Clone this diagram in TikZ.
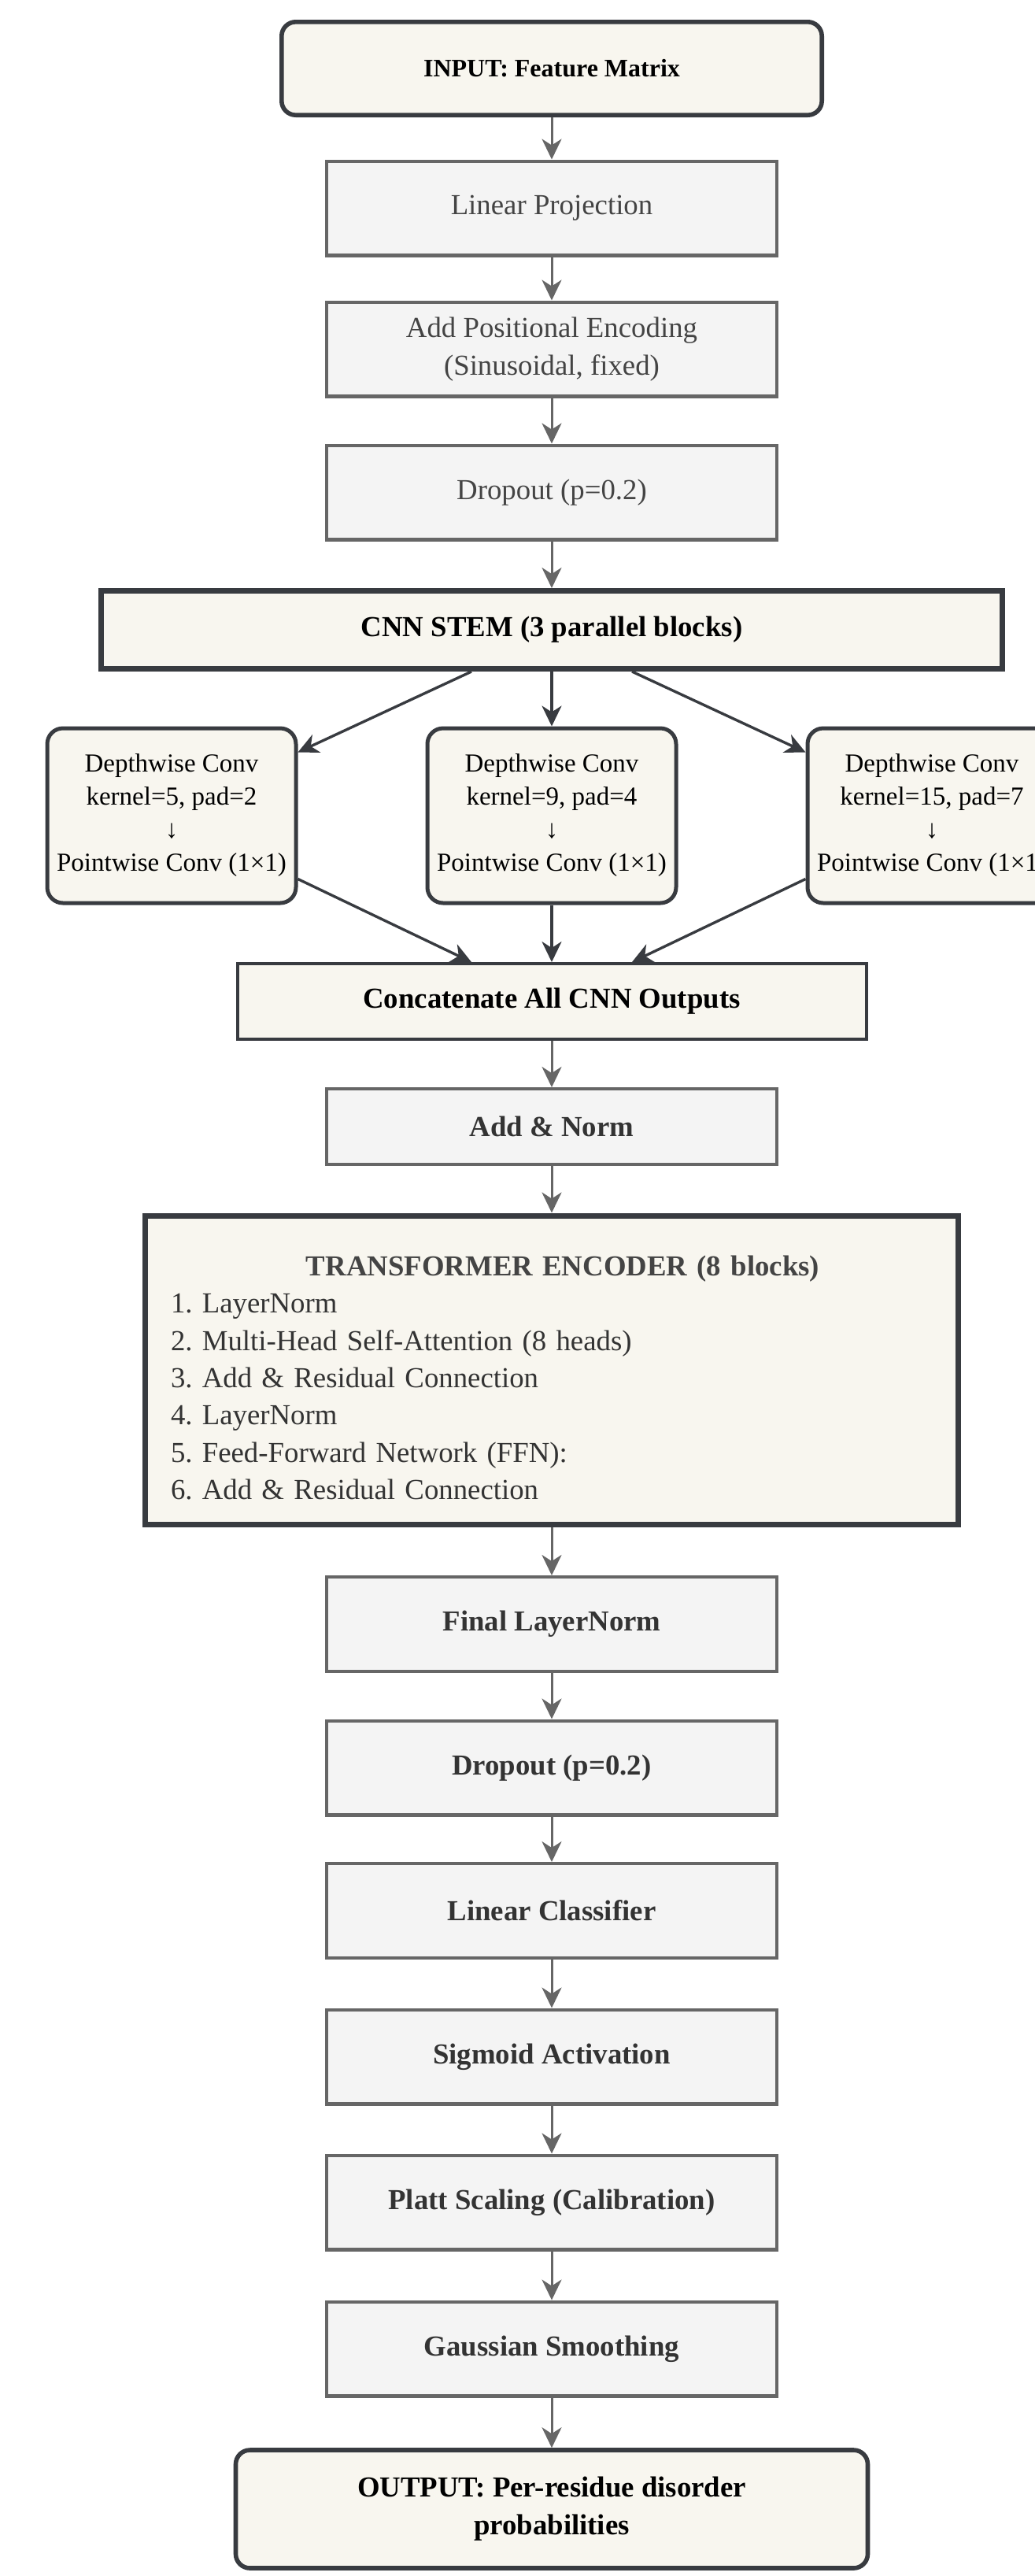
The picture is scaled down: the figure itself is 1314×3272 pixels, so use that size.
\documentclass[tikz,border=0pt]{standalone}
\usepackage{fontspec}
\setmainfont{Liberation Serif}
\usetikzlibrary{arrows.meta}
\frenchspacing
\definecolor{cream}{HTML}{F8F6EF}
\definecolor{boxgray}{HTML}{F4F4F4}
\definecolor{edgedark}{HTML}{383B40}
\definecolor{edgegray}{HTML}{666666}
\definecolor{textgray}{HTML}{444444}
\definecolor{textdark}{HTML}{333333}
\tikzset{
  grayblock/.style={draw=edgegray,fill=boxgray,line width=2.2pt,minimum width=285.8pt,minimum height=59.8pt,inner sep=0pt,align=center,text=textgray,font=\fontsize{18.4}{24}\selectfont},
  graybold/.style={grayblock,text=textdark,font=\fontsize{18.4}{24}\selectfont\bfseries},
  endblock/.style={draw=edgedark,fill=cream,line width=2.8pt,rounded corners=9pt,inner sep=0pt,align=center,font=\fontsize{18.4}{24}\selectfont\bfseries},
  stemblock/.style={draw=edgedark,fill=cream,line width=3.5pt,inner sep=0pt,align=center,font=\fontsize{18.4}{24}\selectfont\bfseries},
  convblock/.style={draw=edgedark,fill=cream,line width=2.5pt,rounded corners=10pt,minimum width=158pt,minimum height=111pt,inner sep=0pt,align=center,font=\fontsize{16.5}{21}\selectfont},
  flow/.style={draw=edgegray,line width=1.5pt,-{Stealth[length=13pt,width=12.5pt,inset=4pt]}},
  branch/.style={flow,draw=edgedark,line width=1.7pt}
}
\begin{document}
\begin{tikzpicture}[x=0.5pt,y=-0.5pt]
\pgfmathsetmacro{\cx}{701}
\pgfmathsetmacro{\gap}{483}
\pgfmathsetmacro{\ybr}{1036}
\useasboundingbox (0,0) rectangle (1314,3272);
  \node[endblock,minimum width=343.2pt,minimum height=59.2pt,font=\fontsize{16}{20}\selectfont\bfseries] (input) at (\cx,87) {INPUT: Feature Matrix};
  \node[grayblock] (linproj) at (\cx,264.5) {Linear Projection};
  \node[grayblock] (posenc) at (\cx,443.5) {Add Positional Encoding\\(Sinusoidal, fixed)};
  \node[grayblock] (dropA) at (\cx,625.5) {Dropout (p=0.2)};
  \node[stemblock,minimum width=572.5pt,minimum height=49.5pt] (stem) at (\cx,800) {CNN STEM (3 parallel blocks)};
  \node[convblock] (convA) at (\cx-\gap,\ybr) {Depthwise Conv\\kernel=5, pad=2\\↓\\Pointwise Conv (1×1)};
  \node[convblock] (convB) at (\cx,\ybr) {Depthwise Conv\\kernel=9, pad=4\\↓\\Pointwise Conv (1×1)};
  \node[convblock] (convC) at (\cx+\gap,\ybr) {Depthwise Conv\\kernel=15, pad=7\\↓\\Pointwise Conv (1×1)};
  \node[stemblock,line width=2pt,minimum width=399.5pt,minimum height=48pt] (concat) at (\cx,1272) {Concatenate All CNN Outputs};
  \node[graybold,minimum height=47.8pt] (addnorm) at (\cx,1431) {Add \& Norm};
  \node[stemblock,minimum width=516.5pt,minimum height=196pt] (encoder) at (\cx,1740) {};
  \node[text width=484pt,align=left,inner sep=0pt,text=textdark,font=\fontsize{18.4}{23.7}\selectfont] (enclist) at ([yshift=-5pt]encoder.center)
    {\makebox[\linewidth]{\hspace*{14pt}\color{textgray}\bfseries TRANSFORMER ENCODER (8 blocks)}\\
     1. LayerNorm\\
     2. Multi-Head Self-Attention (8 heads)\\
     3. Add \& Residual Connection\\
     4. LayerNorm\\
     5. Feed-Forward Network (FFN):\\
     6. Add \& Residual Connection};
  \node[graybold] (finalln) at (\cx,2063) {Final LayerNorm};
  \node[graybold] (dropB) at (\cx,2245.5) {Dropout (p=0.2)};
  \node[graybold] (classif) at (\cx,2427) {Linear Classifier};
  \node[graybold] (sigm) at (\cx,2612.5) {Sigmoid Activation};
  \node[graybold] (platt) at (\cx,2797.5) {Platt Scaling (Calibration)};
  \node[graybold] (smooth) at (\cx,2983.5) {Gaussian Smoothing};
  \node[endblock,minimum width=401.5pt,minimum height=75pt] (output) at (\cx,3187) {OUTPUT: Per-residue disorder\\probabilities};
  \draw[flow] (input) -- (linproj);
  \draw[flow] (linproj) -- (posenc);
  \draw[flow] (posenc) -- (dropA);
  \draw[flow] (dropA) -- (stem);
  \draw[branch] ([xshift=-51pt]stem.south) -- ([yshift=-16.5pt]convA.north east);
  \draw[branch] (stem) -- (convB);
  \draw[branch] ([xshift=51pt]stem.south) -- ([yshift=-16.5pt]convC.north west);
  \draw[branch] ([yshift=16.5pt]convA.south east) -- ([xshift=-51pt]concat.north);
  \draw[branch] (convB) -- (concat);
  \draw[branch] ([yshift=16.5pt]convC.south west) -- ([xshift=51pt]concat.north);
  \draw[flow] (concat) -- (addnorm);
  \draw[flow] (addnorm) -- (encoder);
  \draw[flow] (encoder) -- (finalln);
  \draw[flow] (finalln) -- (dropB);
  \draw[flow] (dropB) -- (classif);
  \draw[flow] (classif) -- (sigm);
  \draw[flow] (sigm) -- (platt);
  \draw[flow] (platt) -- (smooth);
  \draw[flow] (smooth) -- (output);
\end{tikzpicture}
\end{document}
